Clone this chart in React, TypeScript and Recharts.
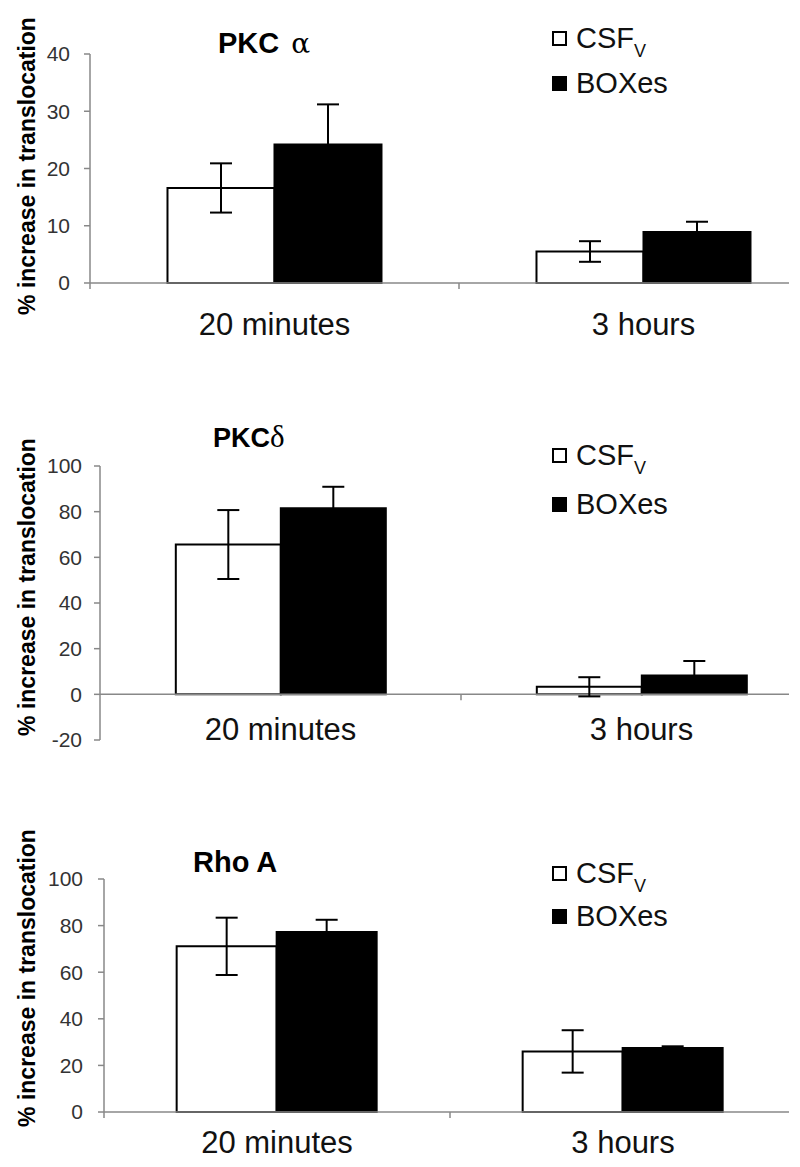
import { BarChart, Bar, XAxis, YAxis, ErrorBar, ReferenceLine, Legend } from 'recharts'

// categories and series
const categories = ['20 minutes', '3 hours']
const seriesNames = ['CSF', 'BOXes']
const seriesSubs = ['V', '']

// PKC alpha
const alphaCsf = [16.6, 5.5]
const alphaCsfErr = [4.3, 1.8]
const alphaBox = [24.2, 8.9]
const alphaBoxErr = [7.0, 1.8]
const alphaTicks = [0, 10, 20, 30, 40]

// PKC delta
const deltaCsf = [65.6, 3.3]
const deltaCsfErr = [15.1, 4.2]
const deltaBox = [81.5, 8.2]
const deltaBoxErr = [9.4, 6.4]
const deltaTicks = [-20, 0, 20, 40, 60, 80, 100]

// Rho A
const rhoCsf = [71.1, 26.0]
const rhoCsfErr = [12.3, 9.1]
const rhoBox = [77.3, 27.5]
const rhoBoxErr = [5.2, 0.7]
const rhoTicks = [0, 20, 40, 60, 80, 100]

const yLabel = '% increase in translocation'

const buildData = (csf: number[], csfErr: number[], box: number[], boxErr: number[]) =>
  categories.map((cat, i) => ({ cat, csf: csf[i], csfErr: csfErr[i], box: box[i], boxErr: boxErr[i] }))

const CHART_W = 840
const AXIS = '#888'

interface PanelProps {
  data: any[]
  ticks: number[]
  domain: [number, number]
  top: number
  height: number
  margin: { top: number; right: number; bottom: number; left: number }
  yWidth: number
  xHeight: number
  tickMargin: number
  labelDy: number
  tickUnits: number
  legendTop: number
  rowH: number
}

function Panel({ data, ticks, domain, top, height, margin, yWidth, xHeight, tickMargin, labelDy, tickUnits, legendTop, rowH }: PanelProps) {
  const CatTick = ({ x, y, payload }: any) => (
    <text x={x} y={y + labelDy} textAnchor="middle" fontSize={31} fill="#111">
      {payload.value}
    </text>
  )

  // keep the series order CSF, BOXes
  const renderLegend = ({ payload }: any) => {
    const items = [...(payload || [])].sort(
      (a: any, b: any) => seriesNames.indexOf(a.value) - seriesNames.indexOf(b.value)
    )
    return (
      <div>
        {items.map((entry: any) => {
          const i = seriesNames.indexOf(entry.value)
          return (
            <div key={entry.value} style={{ height: rowH, display: 'flex', alignItems: 'center' }}>
              <div
                style={{
                  width: 15,
                  height: 15,
                  boxSizing: 'border-box',
                  border: '2px solid #000',
                  background: i === 0 ? '#fff' : '#000',
                  marginRight: 9
                }}
              />
              <span style={{ fontSize: 29, color: '#111', lineHeight: 1 }}>
                {entry.value}
                {seriesSubs[i] && (
                  <span style={{ fontSize: 18, position: 'relative', top: 9 }}>{seriesSubs[i]}</span>
                )}
              </span>
            </div>
          )
        })}
      </div>
    )
  }

  return (
    <div style={{ position: 'absolute', left: 0, top, width: 789, height, overflow: 'hidden' }}>
      <BarChart width={CHART_W} height={height} data={data} margin={margin} barCategoryGap="21%" barGap={0}>
        <XAxis dataKey="cat" axisLine={false} tickLine={false} height={xHeight} tick={<CatTick />} interval={0} />
        <YAxis
          type="number"
          domain={domain}
          ticks={ticks}
          allowDataOverflow
          interval={0}
          width={yWidth}
          tickSize={6}
          tickMargin={tickMargin}
          axisLine={{ stroke: AXIS, strokeWidth: 1.5 }}
          tickLine={{ stroke: AXIS, strokeWidth: 1.5 }}
          tick={{ fontSize: 21, fill: '#333' }}
        />
        <ReferenceLine y={0} stroke={AXIS} strokeWidth={1.5} />
        {/* category boundary tick between the two groups */}
        <ReferenceLine
          segment={[{ x: categories[1], y: 0 }, { x: categories[1], y: -tickUnits }]}
          position="start"
          stroke={AXIS}
          strokeWidth={1.5}
          ifOverflow="visible"
        />
        <Legend
          layout="vertical"
          align="center"
          verticalAlign="middle"
          wrapperStyle={{ top: legendTop, left: 552, width: 220 }}
          content={renderLegend}
        />
        <Bar dataKey="csf" name={seriesNames[0]} fill="#fff" stroke="#000" strokeWidth={2} isAnimationActive={false}>
          <ErrorBar dataKey="csfErr" width={11} stroke="#000" strokeWidth={2} direction="y" isAnimationActive={false} />
        </Bar>
        <Bar dataKey="box" name={seriesNames[1]} fill="#000" stroke="#000" strokeWidth={2} isAnimationActive={false}>
          <ErrorBar dataKey="boxErr" width={11} stroke="#000" strokeWidth={2} direction="y" isAnimationActive={false} />
        </Bar>
      </BarChart>
    </div>
  )
}

export default function App() {
  return (
    <div
      style={{
        position: 'absolute',
        left: 0,
        top: 0,
        width: 800,
        height: 1167,
        overflow: 'hidden',
        background: '#fff',
        fontFamily: "'Liberation Sans', Arial, sans-serif"
      }}
    >
      <Panel
        data={buildData(alphaCsf, alphaCsfErr, alphaBox, alphaBoxErr)}
        ticks={alphaTicks}
        domain={[-1.05, 40]}
        top={0}
        height={360}
        margin={{ top: 54, right: 12, bottom: 41, left: 10 }}
        yWidth={80}
        xHeight={30}
        tickMargin={14}
        labelDy={38}
        tickUnits={1.05}
        legendTop={16}
        rowH={45}
      />
      <Panel
        data={buildData(deltaCsf, deltaCsfErr, deltaBox, deltaBoxErr)}
        ticks={deltaTicks}
        domain={[-20, 100]}
        top={380}
        height={380}
        margin={{ top: 86, right: 18, bottom: 0, left: 10 }}
        yWidth={90}
        xHeight={20}
        tickMargin={12}
        labelDy={-8}
        tickUnits={2.6}
        legendTop={51}
        rowH={49}
      />
      <Panel
        data={buildData(rhoCsf, rhoCsfErr, rhoBox, rhoBoxErr)}
        ticks={rhoTicks}
        domain={[-2.57, 100]}
        top={780}
        height={387}
        margin={{ top: 99, right: 44, bottom: 19, left: 10 }}
        yWidth={94}
        xHeight={30}
        tickMargin={15}
        labelDy={27}
        tickUnits={2.57}
        legendTop={72}
        rowH={43}
      />
      <svg width={800} height={1167} style={{ position: 'absolute', left: 0, top: 0, pointerEvents: 'none' }}>
        <text x={218} y={53} fontSize={29} fontWeight="bold" fill="#000">
          PKC
          <tspan dx={12} fontFamily="'DejaVu Serif', serif" fontWeight="normal" fontSize={28}>α</tspan>
        </text>
        <text x={213} y={447} fontSize={27} fontWeight="bold" fill="#000">
          PKC
          <tspan fontFamily="'Liberation Serif', serif" fontWeight="normal" fontSize={31}>δ</tspan>
        </text>
        <text x={193} y={872} fontSize={29} fontWeight="bold" fill="#000">
          Rho A
        </text>
        {[166, 587, 978].map(cy => (
          <text
            key={cy}
            transform={`translate(35, ${cy}) rotate(-90)`}
            textAnchor="middle"
            fontSize={23}
            fontWeight="bold"
            fill="#000"
          >
            {yLabel}
          </text>
        ))}
      </svg>
    </div>
  )
}
